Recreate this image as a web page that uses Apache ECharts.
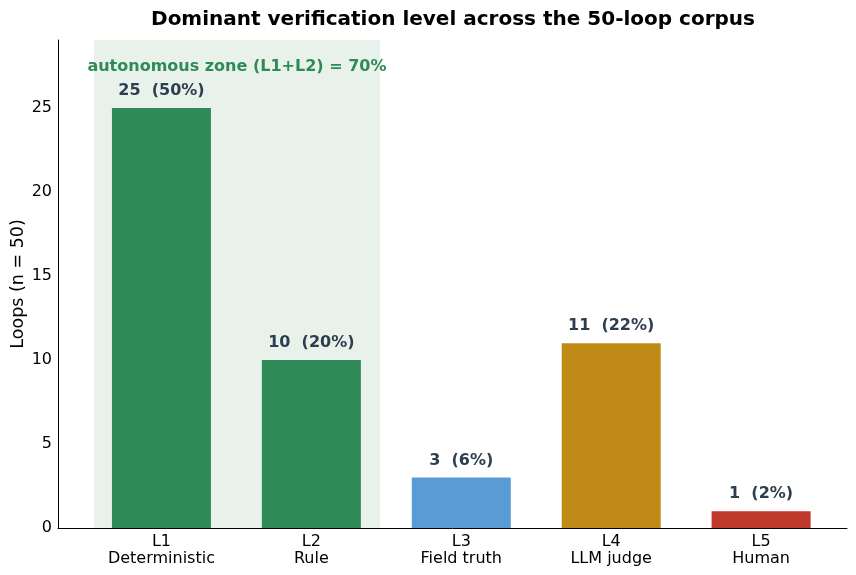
<!DOCTYPE html>
<html>
<head>
<meta charset="utf-8">
<script src="https://cdn.jsdelivr.net/npm/echarts@6/dist/echarts.min.js"></script>
<style>
  html, body { margin: 0; padding: 0; background: #fff; }
  #chart { width: 856px; height: 575px; }
</style>
</head>
<body>
<div id="chart"></div>
<script>
var levels = ['L1', 'L2', 'L3', 'L4', 'L5'];
var names = ['Deterministic', 'Rule', 'Field truth', 'LLM judge', 'Human'];
var loops = [25, 10, 3, 11, 1];
var shares = [50, 20, 6, 22, 2];
var colors = ['#2e8b57', '#2e8b57', '#5b9bd5', '#bf8a16', '#c0392b'];
var zoneText = 'autonomous zone (L1+L2) = 70%';
var yTicks = [0, 5, 10, 15, 20, 25];

var font = 'DejaVu Sans';
var chart = echarts.init(document.getElementById('chart'), null, { renderer: 'canvas' });

chart.setOption({
  animation: false,
  title: {
    text: 'Dominant verification level across the 50-loop corpus',
    left: 448, top: 5, textAlign: 'center',
    textStyle: { fontFamily: font, fontSize: 20, fontWeight: 'bold', color: '#000' }
  },
  grid: { left: 58, right: 9, top: 40, bottom: 47, outerBoundsMode: 'none' },
  xAxis: {
    type: 'value', min: -0.69, max: 4.573,
    splitLine: { show: false },
    axisLine: { show: true, onZero: false, lineStyle: { color: '#000', width: 1 } },
    axisTick: { show: false },
    axisLabel: {
      customValues: [0, 1, 2, 3, 4],
      fontFamily: font, fontSize: 16, color: '#000', lineHeight: 17, margin: 5,
      formatter: function (v) { var i = Math.round(v); return levels[i] + '\n' + names[i]; }
    }
  },
  yAxis: {
    type: 'value', min: 0, max: 29.05,
    name: 'Loops (n = 50)', nameLocation: 'middle', nameGap: 31, nameMoveOverlap: false,
    nameTextStyle: { fontFamily: font, fontSize: 17.5, color: '#000' },
    splitLine: { show: false },
    axisLine: { show: true, onZero: false, lineStyle: { color: '#000', width: 1 } },
    axisTick: { show: false },
    axisLabel: {
      customValues: yTicks,
      fontFamily: font, fontSize: 16, color: '#000', margin: 6
    }
  },
  series: [{
    type: 'bar',
    barWidth: 99,
    data: loops.map(function (v, i) {
      return { value: [i, v], itemStyle: { color: colors[i] } };
    }),
    label: {
      show: true, position: 'top', distance: 9,
      fontFamily: font, fontSize: 16, fontWeight: 'bold', color: '#2c3e50',
      formatter: function (p) { return loops[p.dataIndex] + '  (' + shares[p.dataIndex] + '%)'; }
    },
    markArea: {
      silent: true,
      itemStyle: { color: '#e8f2ea' },
      label: {
        show: true, position: 'insideTop', distance: 19,
        fontFamily: font, fontSize: 16, fontWeight: 'bold', color: '#2e8b57'
      },
      data: [[{ xAxis: -0.45, yAxis: 0, name: zoneText }, { xAxis: 1.457, yAxis: 29.05 }]]
    },
    z: 1
  }]
});
</script>
</body>
</html>
